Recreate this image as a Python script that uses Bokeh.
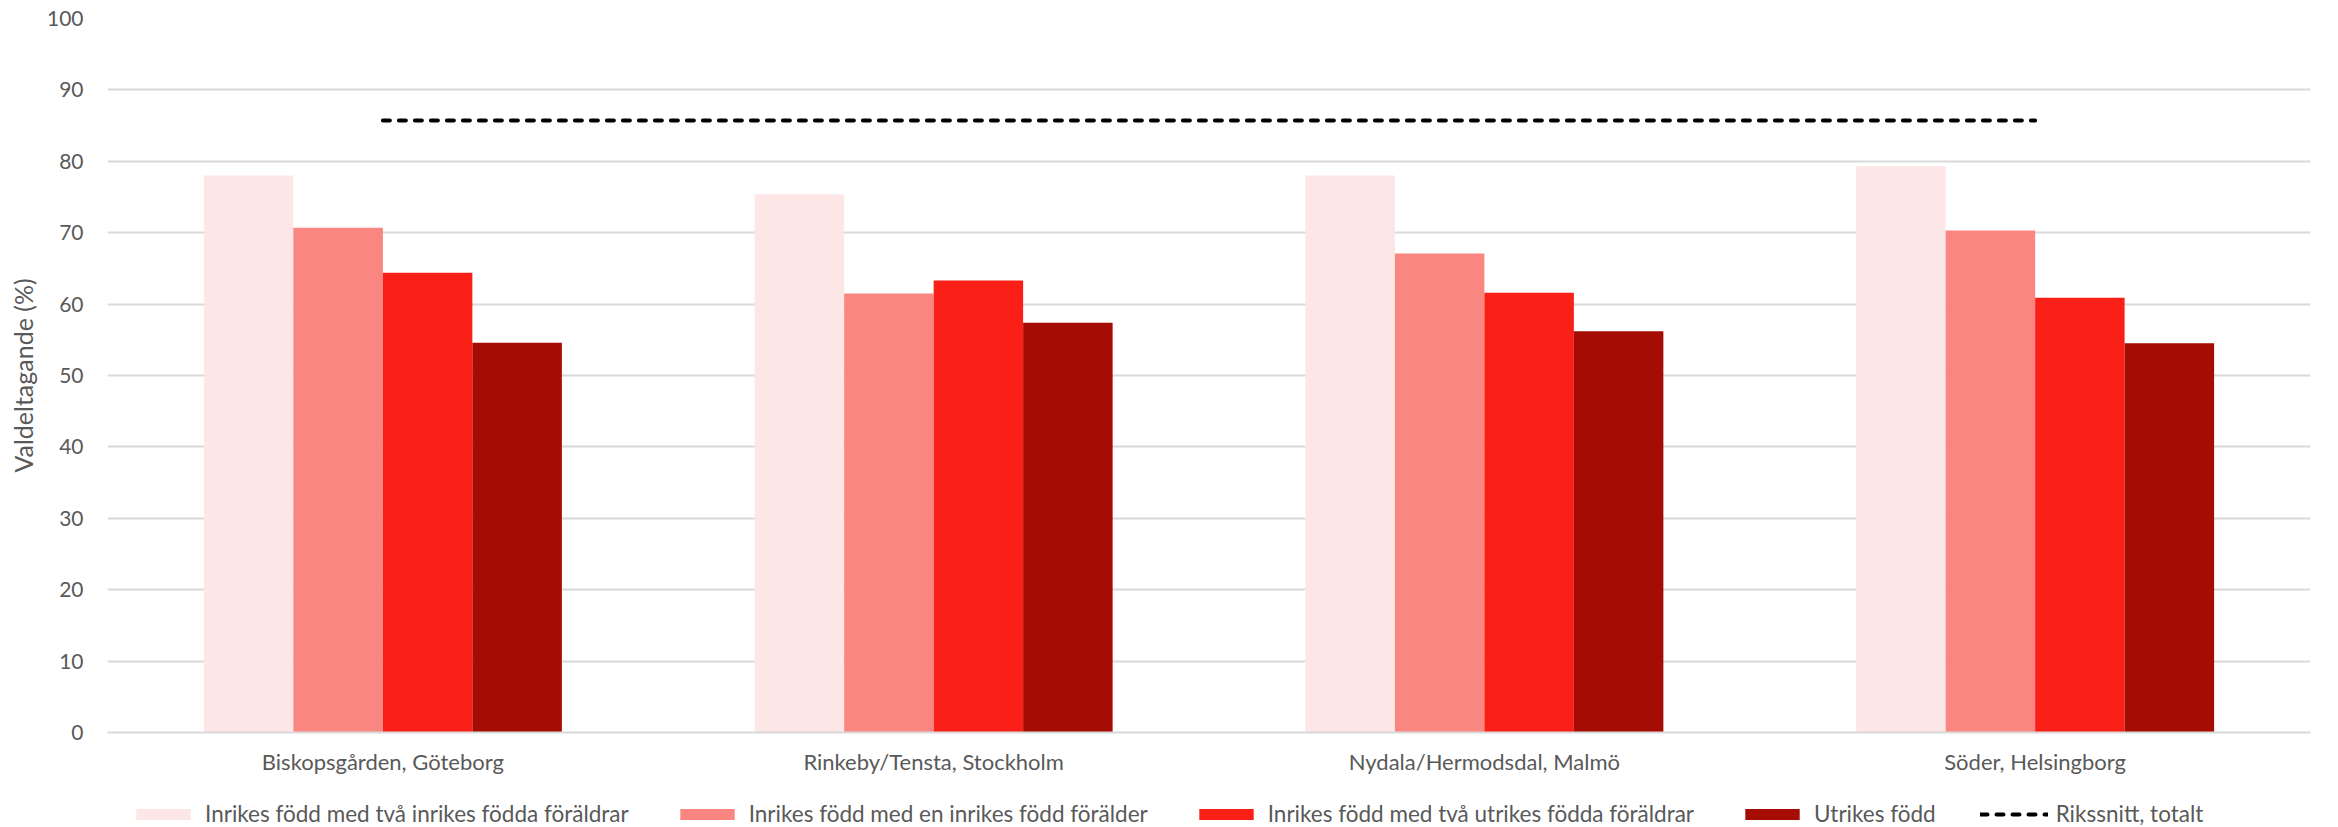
from bokeh.plotting import figure
from bokeh.layouts import column
from bokeh.models import FactorRange, Range1d, Legend, LegendItem
from bokeh.transform import dodge
from bokeh.embed import file_html
from bokeh.resources import INLINE

categories = ["Biskopsgården, Göteborg", "Rinkeby/Tensta, Stockholm",
              "Nydala/Hermodsdal, Malmö", "Söder, Helsingborg"]
series_names = ["Inrikes född med två inrikes födda föräldrar",
                "Inrikes född med en inrikes född förälder",
                "Inrikes född med två utrikes födda föräldrar",
                "Utrikes född"]
two_domestic_parents = [78.0, 75.4, 78.0, 79.3]
one_domestic_parent = [70.7, 61.5, 67.1, 70.3]
two_foreign_parents = [64.4, 63.3, 61.6, 60.9]
foreign_born = [54.6, 57.4, 56.2, 54.5]
riks_label = "Rikssnitt, totalt"
riks_values = [85.7, 85.7, 85.7, 85.7]
colors = ["#FDE6E6", "#F98680", "#FA2018", "#A50C03"]
y_ticks = list(range(0, 101, 10))

FONT = "Lato"
TXT = "#595959"

data = dict(cat=categories, s0=two_domestic_parents, s1=one_domestic_parent,
            s2=two_foreign_parents, s3=foreign_born, riks=riks_values)
keys = ["s0", "s1", "s2", "s3"]

p = figure(width=2338, height=797, x_range=FactorRange(*categories),
           y_range=Range1d(0, 100), output_backend="svg", toolbar_location=None,
           min_border_left=107, min_border_right=28, min_border_top=18, min_border_bottom=65)
p.outline_line_color = None

bw = 0.1625
offsets = [-1.5 * bw, -0.5 * bw, 0.5 * bw, 1.5 * bw]
for i, key in enumerate(keys):
    p.vbar(x=dodge("cat", offsets[i], range=p.x_range), top=key, width=bw,
           source=data, fill_color=colors[i], line_color=None)

LINE_STYLE = dict(line_color="black", line_width=4, line_dash="7 9", line_cap="round")
p.line(x="cat", y="riks", source=data, **LINE_STYLE)

# axes
p.yaxis.ticker = y_ticks
p.yaxis.axis_line_color = None
p.yaxis.major_tick_line_color = None
p.yaxis.minor_tick_line_color = None
p.yaxis.major_tick_out = 0
p.yaxis.major_label_standoff = 24
p.yaxis.major_label_text_font = FONT
p.yaxis.major_label_text_font_size = "21px"
p.yaxis.major_label_text_color = TXT
p.yaxis.axis_label = "Valdeltagande (%)"
p.yaxis.axis_label_text_font = FONT
p.yaxis.axis_label_text_font_size = "25px"
p.yaxis.axis_label_text_font_style = "normal"
p.yaxis.axis_label_text_color = TXT
p.yaxis.axis_label_standoff = 6

p.xaxis.axis_line_color = "#D9D9D9"
p.xaxis.axis_line_width = 2
p.xaxis.major_tick_line_color = None
p.xaxis.minor_tick_line_color = None
p.xaxis.major_tick_out = 0
p.xaxis.major_label_standoff = 15
p.xaxis.major_label_text_font = FONT
p.xaxis.major_label_text_font_size = "22px"
p.xaxis.major_label_text_color = TXT

p.xgrid.grid_line_color = None
p.ygrid.grid_line_color = "#D9D9D9"
p.ygrid.grid_line_width = 2

# legend strip below the chart (its proxy glyphs fall outside its y range)
lg = figure(width=2338, height=30, output_backend="svg", toolbar_location=None,
            x_axis_type=None, y_axis_type=None, x_range=p.x_range, y_range=Range1d(101, 102),
            min_border=0)
lg.outline_line_color = None
lg.xgrid.visible = False
lg.ygrid.visible = False
leg_renderers = [lg.vbar(x=dodge("cat", offsets[i], range=lg.x_range), top=k, width=bw,
                         source=data, fill_color=colors[i], line_color=None)
                 for i, k in enumerate(keys)]
leg_renderers.append(lg.line(x="cat", y="riks", source=data, **LINE_STYLE))
items = [LegendItem(label=series_names[i], renderers=[leg_renderers[i]]) for i in range(4)]
items.append(LegendItem(label=riks_label, renderers=[leg_renderers[4]]))
legend = Legend(items=items, orientation="horizontal", location=(22, 0),
                glyph_width=68, glyph_height=14, label_standoff=8, spacing=44,
                padding=0, margin=0, border_line_color=None, background_fill_alpha=0,
                label_text_font=FONT, label_text_font_size="22.5px", label_text_color=TXT)
lg.add_layout(legend, "center")

open("out.html", "w").write(file_html(column(p, lg), INLINE))
